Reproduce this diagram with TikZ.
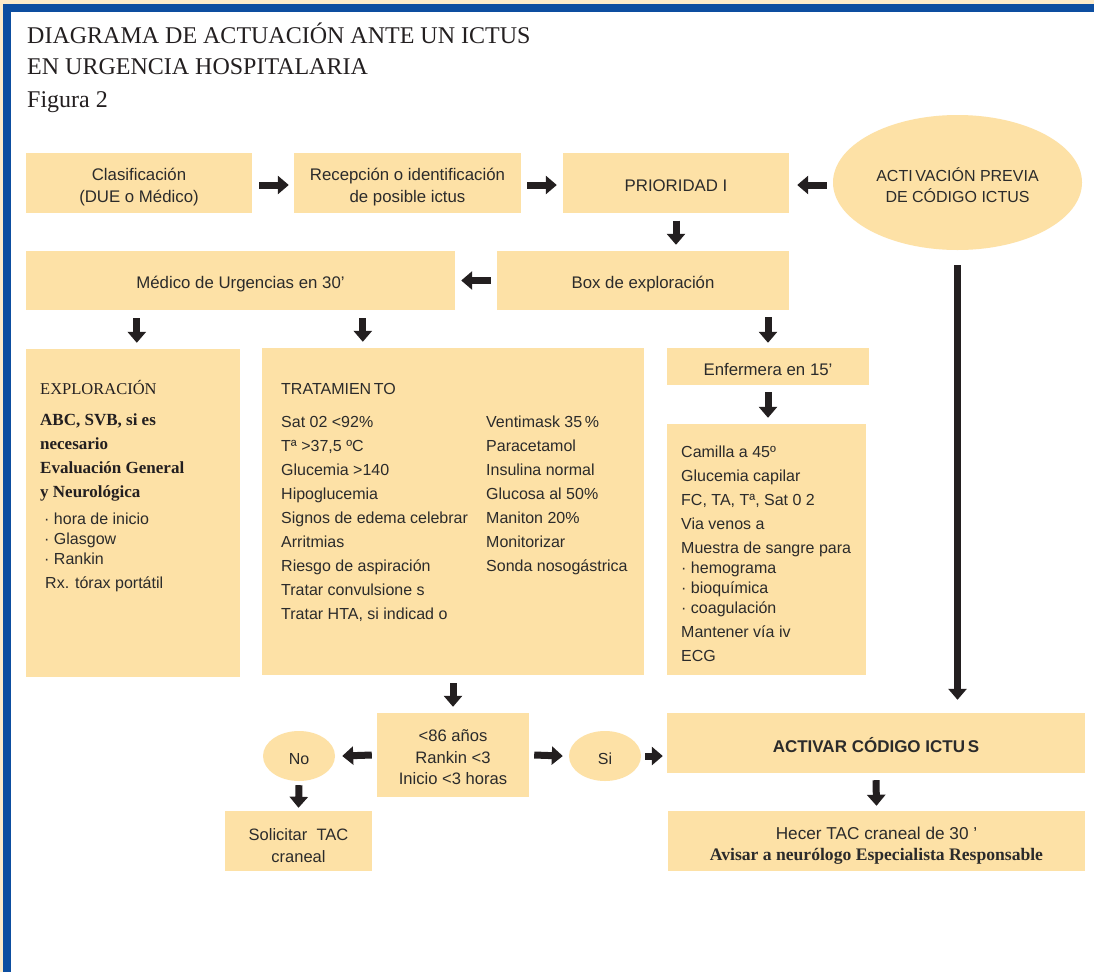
\documentclass[tikz,border=0pt]{standalone}
\usepackage{fontspec}
\setmainfont{Liberation Serif}
\newfontfamily\sansf{Liberation Sans}
\usetikzlibrary{arrows.meta,shapes.geometric,calc}
\definecolor{boxc}{HTML}{FDE1A6}
\definecolor{bluec}{HTML}{0D4EA0}
\definecolor{beigec}{HTML}{FDEBC9}
\definecolor{inkc}{HTML}{231F20}
\definecolor{txtc}{HTML}{2B2B2B}
\newcommand\tx[2][-5pt]{\raisebox{#1}[\height][\depth]{\begin{tabular}{@{}c@{}}#2\end{tabular}}}
\begin{document}
\begin{tikzpicture}[x=1pt,y=-1pt,
  box/.style={rectangle, fill=boxc, draw=none, inner sep=0pt, text=txtc,
    font=\sansf\fontsize{16.8}{22}\selectfont},
  sz/.style 2 args={minimum width=#1pt, minimum height=#2pt},
  oval/.style={ellipse, fill=boxc, draw=none, inner sep=0pt, text=txtc,
    font=\sansf\fontsize{16}{21}\selectfont},
  blk/.style={draw=inkc, line width=7pt, -{Triangle[length=11pt,width=18pt]}},
  ln/.style={anchor=base west, inner sep=0pt, text=txtc, font=\sansf\fontsize{16}{20}\selectfont},
  sl/.style={anchor=base west, inner sep=0pt, text=inkc, font=\fontsize{16.5}{20}\selectfont},
  slb/.style={sl, font=\fontsize{17}{20}\selectfont\bfseries},
  title/.style={anchor=base west, inner sep=0pt, text=inkc, font=\fontsize{24}{30}\selectfont},
]
% background and frame
\fill[white] (0,0) rectangle (1094,972);
\fill[beigec] (0,0) rectangle (1094,4);
\fill[beigec] (0,0) rectangle (3,972);
\fill[bluec] (3,4) rectangle (1094,12);
\fill[bluec] (3,4) rectangle (11,972);
\useasboundingbox (0,0) rectangle (1094,972);

% title
\node[title] (t1) at (27,43) {DIAGRAMA DE ACTUACIÓN ANTE UN ICTUS};
\node[title] (t2) at (27,74) {EN URGENCIA HOSPITALARIA};
\node[title] (t3) at (27,107) {Figura 2};

% top row
\node[box, sz={226}{60}] (clas) at (139,182.5) {\tx{Clasificación\\(DUE o Médico)}};
\node[box, sz={227}{60}] (rec) at (407.5,182.5) {\tx{Recepción o identificación\\de posible ictus}};
\node[box, sz={226}{60}] (prio) at (676,182.5) {\tx{PRIORIDAD I}};
\node[oval, minimum width=249pt, minimum height=135pt] (act) at (957.5,182.5) {\tx[-5.5pt]{ACTI\,VACIÓN PREVIA\\DE CÓDIGO ICTUS}};

% second row
\node[box, sz={429}{59}] (medico) at (240.5,280.5) {\tx[-4pt]{Médico de Urgencias en 30’}};
\node[box, sz={292}{59}] (boxexp) at (643,280.5) {\tx[-4pt]{Box de exploración}};

% third row boxes
\node[box, sz={214}{328}] (expl) at (133,513) {};
\node[box, sz={382}{327}] (trat) at (453,511.5) {};
\node[box, sz={202}{37}] (enf) at (768,366.5) {\tx{Enfermera en 15’}};
\node[box, sz={199}{251}] (nurse) at (766.5,549.5) {};

% EXPLORACION text
\node[sl] (e1) at (40,394) {EXPLORACIÓN};
\node[slb] (e2) at (40,425) {ABC, SVB, si es};
\node[slb] (e3) at (40,449) {necesario};
\node[slb] (e4) at (40,473) {Evaluación General};
\node[slb] (e5) at (40,497) {y Neurológica};
\node[ln] (e6) at (44,524) {· hora de inicio};
\node[ln] (e7) at (44,544) {· Glasgow};
\node[ln] (e8) at (44,564) {· Rankin};
\node[ln] (e9) at (45,588) {Rx. tórax portátil};

% TRATAMIENTO text
\node[ln] (tt) at (281,394) {TRATAMIEN\,TO};
\foreach \t [count=\i] in {Sat 02 <92\%, {Tª >37,5 ºC}, Glucemia >140, Hipoglucemia,
  Signos de edema celebrar, Arritmias, Riesgo de aspiración, Tratar convulsione s,
  {Tratar HTA, si indicad o}}
  \node[ln] (tl\i) at (281,{403+24*\i}) {\t};
\foreach \t [count=\i] in {Ventimask 35\,\%, Paracetamol, Insulina normal, Glucosa al 50\%,
  Maniton 20\%, Monitorizar, Sonda nosogástrica}
  \node[ln] (tr\i) at (486,{403+24*\i}) {\t};

% nurse text
\foreach \t/\yy [count=\i] in {Camilla a 45º/457, Glucemia capilar/481, {FC, TA, Tª, Sat 0 2}/505,
  Via venos a/529, Muestra de sangre para/553, · hemograma/573, · bioquímica/593,
  · coagulación/613, Mantener vía iv/637, ECG/661}
  \node[ln] (nl\i) at (681,\yy) {\t};

% bottom part
\node[box, sz={152}{84}, font=\sansf\fontsize{16.6}{21.5}\selectfont] (crit) at (453,755) {\tx[-4pt]{<86 años\\Rankin <3\\Inicio <3 horas}};
\node[oval, minimum width=72pt, minimum height=50pt] (no) at (299,756) {\tx[-4pt]{No}};
\node[oval, minimum width=72pt, minimum height=50pt] (si) at (605,756) {\tx[-4pt]{Si}};
\node[box, sz={418}{60}, font=\sansf\bfseries\fontsize{17}{22}\selectfont] (activar) at (876,743) {\tx{ACTIVAR CÓDIGO ICTU\,S}};
\node[box, sz={417}{60}, font=\sansf\fontsize{17.2}{21}\selectfont] (hecer) at (876.5,841) {\tx{Hecer TAC craneal de 30 ’\\{\rmfamily\bfseries\fontsize{17.6}{20}\selectfont Avisar a neurólogo Especialista Responsable}}};
\node[box, sz={147}{60}, font=\sansf\fontsize{16.5}{22}\selectfont] (solic) at (298.5,841) {\tx[-6pt]{Solicitar \ TAC\\craneal}};

% connectors
\draw[blk] ($(clas.east)+(7,2.5)$) -- ($(rec.west)+(-5,2.5)$);
\draw[blk] ($(rec.east)+(6,2.5)$) -- ($(prio.west)+(-6,2.5)$);
\draw[blk] ($(act.west)+(-6,2.5)$) -- ($(prio.east)+(8,2.5)$);
\draw[blk] ($(prio.south)+(0,8)$) -- ($(boxexp.north -| prio.south)+(0,-6)$);
\draw[blk] ($(boxexp.west)+(-6,0)$) -- ($(medico.east)+(6,0)$);
\draw[blk] ($(medico.south west)+(111,8)$) -- ($(expl.north west)+(111,-6)$);
\draw[blk] ($(medico.south west)+(337,8)$) -- ($(trat.north west)+(101,-6)$);
\draw[blk] ($(boxexp.south -| enf.north)+(0,7)$) -- ($(enf.north)+(0,-5)$);
\draw[blk] ($(enf.south)+(0,7)$) -- ($(nurse.north -| enf.south)+(0,-6)$);
\draw[blk] ($(act.south)+(0,15)$) -- ($(activar.north -| act.south)+(0,-13)$);
\draw[blk] ($(trat.south)+(0,8)$) -- ($(crit.north)+(0,-6)$);
\draw[blk] ($(crit.west)+(-5,0)$) -- ($(no.east)+(7,0)$);
\draw[blk] ($(crit.east)+(5,0)$) -- ($(si.west)+(-6,0)$);
\draw[blk] ($(si.east)+(4,0)$) -- ($(activar.west |- si.east)+(-4,0)$);
\draw[blk] ($(no.south)+(0,4)$) -- ($(solic.north)+(0,-3)$);
\draw[blk] ($(activar.south)+(0,7)$) -- ($(hecer.north)+(0,-5)$);
\end{tikzpicture}
\end{document}
